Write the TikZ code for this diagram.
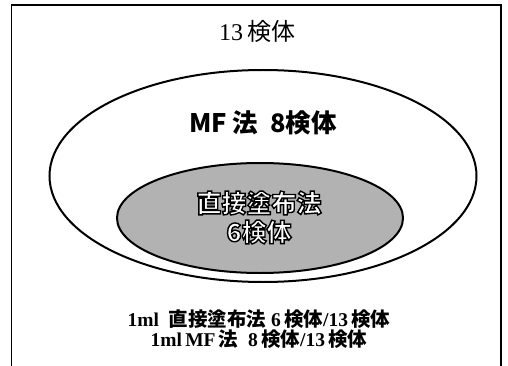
\documentclass[tikz,border=0pt]{standalone}
\usepackage{fontspec}
\setmainfont{Liberation Serif}
\newfontfamily\cjk{Noto Sans CJK JP}
\usetikzlibrary{shapes.geometric}
\newcommand{\outlined}[1]{\special{pdf:literal direct 2 Tr 0 G 1 g 1.4 w}#1\special{pdf:literal direct 0 Tr}}
\tikzset{
  frame/.style={line width=1.3pt},
  set/.style={ellipse, draw, line width=2pt, inner sep=0pt},
  title/.style={font=\fontsize{24}{26}\selectfont, inner sep=0pt},
  big/.style={font=\cjk\bfseries\fontsize{25.5}{28}\selectfont, inner sep=0pt},
  inner/.style={font=\cjk\bfseries\fontsize{25}{29}\selectfont, inner sep=0pt},
  note/.style={font=\bfseries\fontsize{19.5}{18}\selectfont, align=center, inner sep=0pt}
}
\begin{document}
\begin{tikzpicture}[x=1pt,y=-1pt]
\useasboundingbox (0,0) rectangle (508,366);
\coordinate (bl) at (11.5,366);
\coordinate (tl) at (11.5,5);
\coordinate (tr) at (501,5);
\coordinate (br) at (501,366);
\draw[frame] (bl) -- (tl) -- (tr) -- (br);
\node[set, fill=white, minimum width=427pt, minimum height=212pt] (outer) at (263,176) {};
\node[set, fill=black!30, minimum width=286pt, minimum height=110pt] (inner) at (260,218) {};
\node[title] (t13) at (257,31) {13\,{\cjk 検体}};
\node[big] (mf) at (263,123) {MF 法\ \ 8検体};
\node[inner] (d1) at (259,203) {\outlined{直接塗布法}};
\node[inner] (d2) at (259,232) {\outlined{6検体}};
\node[note] (n) at (259,329) {1ml\ \ {\cjk 直接塗布法}\ 6\,{\cjk 検体}/13\,{\cjk 検体}\\1ml\,MF\,{\cjk 法}\ \ 8\,{\cjk 検体}/13\,{\cjk 検体}};
\end{tikzpicture}
\end{document}
